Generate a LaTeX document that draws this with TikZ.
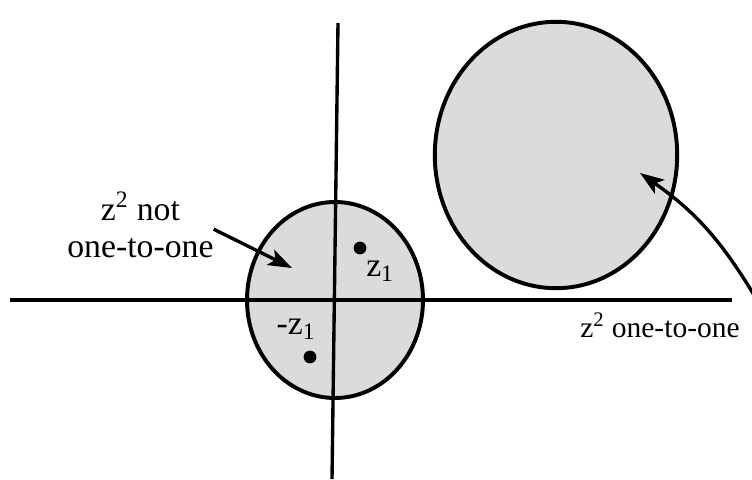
\documentclass[tikz,border=0pt]{standalone}
\usepackage{fontspec}
\setmainfont{Liberation Serif}
\usetikzlibrary{arrows.meta}
\begin{document}
\begin{tikzpicture}[
    axis/.style={line width=2.4pt},
    disc/.style={line width=2.8pt, fill=black!14},
    pointer/.style={line width=2.4pt, -{Stealth[length=17pt,width=12pt,inset=4pt]}},
    lbl/.style={font=\fontsize{24}{27}\selectfont, inner sep=0pt}
  ]
  \useasboundingbox (0,0) rectangle (18.8,11.975);
  % 两个圆盘
  \filldraw[disc] (8.375,4.475) ellipse (2.2 and 2.45);
  \filldraw[disc] (13.9,8.1) ellipse (3.03 and 3.33);
  % 坐标轴
  \draw[axis] (0.25,4.475) -- (18.3,4.475);
  \draw[axis] (8.3,0) -- (8.45,11.4);
  % 点 z1 与 -z1
  \fill (9.0,5.775) circle (0.16);
  \node[lbl] (zone) at (9.5,5.2) {z\textsubscript{1}};
  \fill (7.75,3.05) circle (0.16);
  \node[lbl] (mzone) at (7.4,3.75) {-z\textsubscript{1}};
  % 左边的说明
  \node[lbl, align=center] (nottxt) at (3.51,6.35) {z\textsuperscript{2} not\\one-to-one};
  \coordinate (nottip) at (7.3,5.275);
  \draw[pointer] ([yshift=-3pt]nottxt.east) -- (nottip);
  % 右边的说明
  \node[lbl, font=\fontsize{21}{24}\selectfont, anchor=base east] (onetxt) at (18.5,3.55) {z\textsuperscript{2} one-to-one};
  \coordinate (onetail) at (18.85,4.6);
  \coordinate (onetip) at (16.0,7.65);
  \draw[pointer] (onetail) to[bend right=12] (onetip);
\end{tikzpicture}
\end{document}
